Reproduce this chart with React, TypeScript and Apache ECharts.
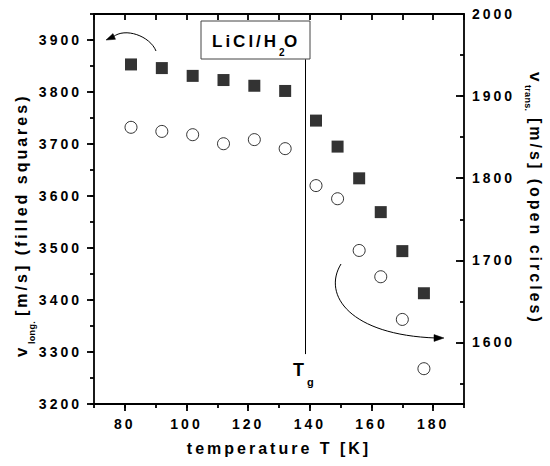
import React, { useEffect, useRef } from "react";
import * as echarts from "echarts";

// ---- data ----
const temperatures = [82, 92, 102, 112, 122, 132, 142, 149, 156, 163, 170, 177];
const vLong = [3853, 3846, 3831, 3823, 3812, 3802, 3745, 3695, 3634, 3569, 3494, 3413];
const vTrans = [1862, 1857, 1853, 1842, 1847, 1836, 1791, 1775, 1712, 1680, 1628, 1568];
const xRange = [70, 190];
const leftRange = [3200, 3950];
const rightRange = [1525, 2000];
const tgValue = 138.4;
const tgLineSpan = [3296, 3863];

const FONT = "Liberation Sans";

const css = `
.chart-root text { letter-spacing: 3px; }
.chart-root text[style*=" 9px"], .chart-root text[style*="10px"], .chart-root text[style*="11px"] { letter-spacing: 0.3px; }
`;

export default function App() {
  const ref = useRef<HTMLDivElement>(null);

  useEffect(() => {
    if (!ref.current) return;
    const chart = echarts.init(ref.current, undefined, { renderer: "svg" });

    const lineStyle = { color: "#000", width: 1.8 };
    const plain = (v: number) => String(v);
    const labelBase = { color: "#000", fontSize: 14, fontWeight: "bold" as const, fontFamily: FONT, formatter: plain };

    const xPoints = temperatures.map((t, i) => [t, vLong[i]]);
    const cPoints = temperatures.map((t, i) => [t, vTrans[i]]);

    const option: any = {
      animation: false,
      backgroundColor: "#fff",
      grid: { left: 94, right: 86, top: 14, bottom: 62, containLabel: false },
      xAxis: [
        {
          type: "value", position: "bottom", min: xRange[0], max: xRange[1],
          minInterval: 20, maxInterval: 20,
          axisLine: { show: true, onZero: false, lineStyle },
          axisTick: { show: true, inside: false, length: 7, lineStyle },
          axisLabel: { ...labelBase, margin: 13, showMinLabel: false, showMaxLabel: false },
          splitLine: { show: false },
        },
        {
          type: "value", position: "bottom", min: xRange[0], max: xRange[1], interval: 10,
          axisLine: { show: false, onZero: false },
          axisTick: { show: true, inside: false, length: 4, lineStyle },
          axisLabel: { show: false },
          splitLine: { show: false },
        },
        {
          type: "value", position: "top", min: xRange[0], max: xRange[1], interval: 10,
          axisLine: { show: true, onZero: false, lineStyle },
          axisTick: { show: true, inside: true, length: 6, lineStyle },
          axisLabel: { show: false },
          splitLine: { show: false },
        },
      ],
      yAxis: [
        {
          type: "value", position: "left", min: leftRange[0], max: leftRange[1], interval: 100,
          axisLine: { show: true, onZero: false, lineStyle },
          axisTick: { show: true, inside: false, length: 7, lineStyle },
          axisLabel: { ...labelBase, margin: 12, showMaxLabel: false },
          splitLine: { show: false },
        },
        {
          type: "value", position: "left", min: leftRange[0], max: leftRange[1], interval: 50,
          axisLine: { show: false, onZero: false },
          axisTick: { show: true, inside: false, length: 4, lineStyle },
          axisLabel: { show: false },
          splitLine: { show: false },
        },
        {
          type: "value", position: "right", min: rightRange[0], max: rightRange[1],
          minInterval: 100, maxInterval: 100,
          axisLine: { show: true, onZero: false, lineStyle },
          axisTick: { show: true, inside: true, length: 8, lineStyle },
          axisLabel: { ...labelBase, margin: 8, showMinLabel: false },
          splitLine: { show: false },
        },
        {
          type: "value", position: "right", min: rightRange[0], max: rightRange[1],
          minInterval: 50, maxInterval: 50,
          axisLine: { show: false, onZero: false },
          axisTick: { show: true, inside: true, length: 4, lineStyle },
          axisLabel: { show: false },
          splitLine: { show: false },
        },
      ],
      series: [
        {
          name: "v long", type: "scatter", xAxisIndex: 0, yAxisIndex: 0,
          symbol: "rect", symbolSize: 12,
          itemStyle: { color: "#000" },
          data: xPoints,
          z: 5,
          markLine: {
            silent: true, symbol: ["none", "none"], label: { show: false },
            lineStyle: { color: "#000", width: 1, type: "solid" },
            data: [[{ coord: [tgValue, tgLineSpan[1]] }, { coord: [tgValue, tgLineSpan[0]] }]],
          },
        },
        {
          name: "v trans", type: "scatter", xAxisIndex: 0, yAxisIndex: 2,
          symbol: "circle", symbolSize: 12,
          itemStyle: { color: "#fff", borderColor: "#000", borderWidth: 1 },
          data: cPoints,
          z: 5,
        },
      ],
      graphic: [
        // annotation box
        { type: "rect", z: 20, shape: { x: 201, y: 21, width: 109, height: 38 },
          style: { fill: "#fff", stroke: "#444", lineWidth: 1 } },
        { type: "text", z: 21, x: 212, y: 41,
          style: { text: "LiCl/H", fontSize: 17, fontWeight: "bold", fontFamily: FONT, fill: "#000", textAlign: "left", textVerticalAlign: "middle" } },
        { type: "text", z: 21, x: 279, y: 52,
          style: { text: "2", fontSize: 10, fontWeight: "bold", fontFamily: FONT, fill: "#000", textAlign: "left", textVerticalAlign: "middle" } },
        { type: "text", z: 21, x: 284, y: 41,
          style: { text: "O", fontSize: 17, fontWeight: "bold", fontFamily: FONT, fill: "#000", textAlign: "left", textVerticalAlign: "middle" } },
        // Tg label
        { type: "text", z: 21, x: 293, y: 370,
          style: { text: "T", fontSize: 18, fontWeight: "bold", fontFamily: FONT, fill: "#000", textAlign: "left", textVerticalAlign: "middle" } },
        { type: "text", z: 21, x: 307, y: 382,
          style: { text: "g", fontSize: 11, fontWeight: "bold", fontFamily: FONT, fill: "#000", textAlign: "left", textVerticalAlign: "middle" } },
        // arrows
        { type: "bezierCurve", z: 21,
          shape: { x1: 156, y1: 51, cpx1: 150, cpy1: 36, cpx2: 125, cpy2: 27, x2: 113, y2: 37 },
          style: { stroke: "#000", lineWidth: 1, fill: "none" } },
        { type: "polygon", z: 21, shape: { points: [[106, 40], [115.5, 39.3], [113, 33.6]] },
          style: { fill: "#000", stroke: "#000", lineWidth: 0.5 } },
        { type: "bezierCurve", z: 21,
          shape: { x1: 341, y1: 264, cpx1: 322, cpy1: 295, cpx2: 350, cpy2: 335, x2: 436, y2: 338 },
          style: { stroke: "#000", lineWidth: 1, fill: "none" } },
        { type: "polygon", z: 21, shape: { points: [[444, 338], [434, 334.6], [434, 341.4]] },
          style: { fill: "#000", stroke: "#000", lineWidth: 0.5 } },
        // x axis title
        { type: "text", z: 21, x: 279, y: 448,
          style: { text: "temperature T [K]", fontSize: 16, fontWeight: "bold", fontFamily: FONT, fill: "#000", textAlign: "center", textVerticalAlign: "middle" } },
        // left axis title
        { type: "group", x: 21, y: 357, rotation: Math.PI / 2, z: 21,
          children: [
            { type: "text", x: 0, y: 0,
              style: { text: "v", fontSize: 17, fontWeight: "bold", fontFamily: FONT, fill: "#000", textAlign: "left", textVerticalAlign: "middle" } },
            { type: "text", x: 13, y: 11,
              style: { text: "long.", fontSize: 9, fontWeight: "bold", fontFamily: FONT, fill: "#000", textAlign: "left", textVerticalAlign: "middle" } },
            { type: "text", x: 41, y: 0,
              style: { text: "[m/s] (filled squares)", fontSize: 16, fontWeight: "bold", fontFamily: FONT, fill: "#000", textAlign: "left", textVerticalAlign: "middle" } },
          ] },
        // right axis title
        { type: "group", x: 535, y: 72, rotation: -Math.PI / 2, z: 21,
          children: [
            { type: "text", x: 0, y: 0,
              style: { text: "v", fontSize: 17, fontWeight: "bold", fontFamily: FONT, fill: "#000", textAlign: "left", textVerticalAlign: "middle" } },
            { type: "text", x: 13, y: 7,
              style: { text: "trans.", fontSize: 9, fontWeight: "bold", fontFamily: FONT, fill: "#000", textAlign: "left", textVerticalAlign: "middle" } },
            { type: "text", x: 46, y: 0,
              style: { text: "[m/s] (open circles)", fontSize: 16, fontWeight: "bold", fontFamily: FONT, fill: "#000", textAlign: "left", textVerticalAlign: "middle" } },
          ] },
      ],
    };

    chart.setOption(option);
    return () => chart.dispose();
  }, []);

  return (
    <>
      <style>{css}</style>
      <div
        ref={ref}
        className="chart-root"
        style={{ position: "fixed", left: 0, top: 0, width: 550, height: 466, background: "#fff" }}
      />
    </>
  );
}
